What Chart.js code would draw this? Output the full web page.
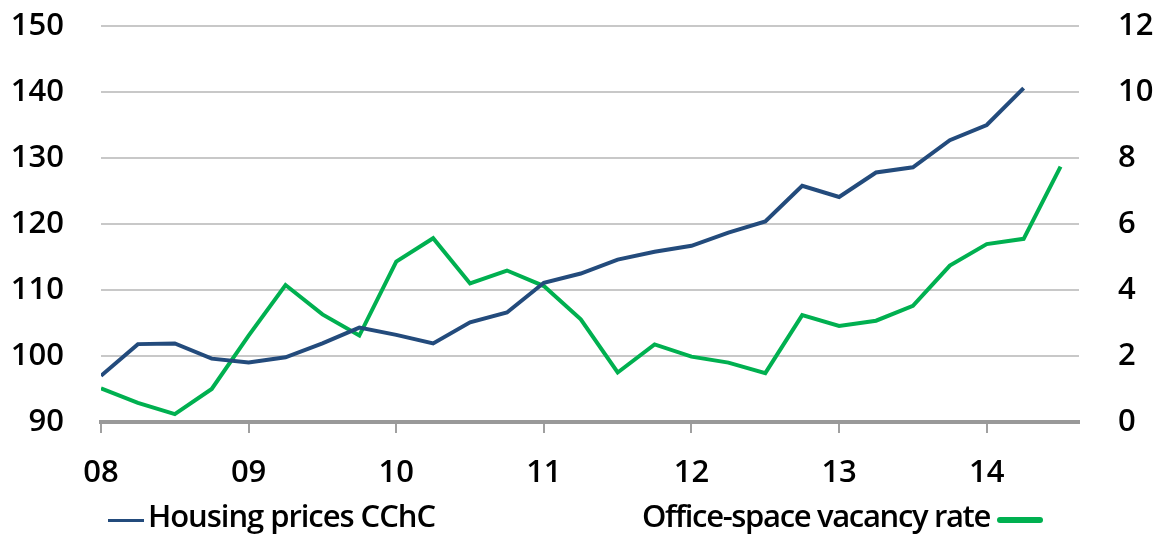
<!DOCTYPE html>
<html>
<head>
<meta charset="utf-8">
<script src="https://cdn.jsdelivr.net/npm/chart.js@4/dist/chart.umd.min.js"></script>
<style>
  html, body { margin: 0; padding: 0; background: #fff; }
  #wrap { position: relative; width: 1160px; height: 539px; overflow: hidden; }
  canvas { position: absolute; left: 0; top: 0; }
  .leg { position: absolute; font-family: "Open Sans", Lato, sans-serif; font-weight: 600; font-size: 31px; line-height: 32px; color: #000; white-space: nowrap; }
  .sw { position: absolute; }
</style>
</head>
<body>
<div id="wrap">
  <canvas id="c" width="1160" height="539"></canvas>
  <div class="sw" style="left:108px; top:519px; width:36px; height:3px; background:#234b7c;"></div>
  <div class="leg" id="leg1" style="left:148px; top:499px;">Housing prices CChC</div>
  <div class="leg" id="leg2" style="left:642px; top:499px;">Office-space vacancy rate</div>
  <div class="sw" id="sw2" style="left:997px; top:517px; width:46px; height:6px; border-radius:3px; background:#00b050;"></div>
</div>
<script>
// Quarterly categories (2008Q1 .. 2014Q3)
const quarters = ['08Q1','08Q2','08Q3','08Q4','09Q1','09Q2','09Q3','09Q4','10Q1','10Q2','10Q3','10Q4',
  '11Q1','11Q2','11Q3','11Q4','12Q1','12Q2','12Q3','12Q4','13Q1','13Q2','13Q3','13Q4','14Q1','14Q2','14Q3'];
const yearLabels = ['08','09','10','11','12','13','14'];
// Housing prices index CChC (left axis)
const housingPrices = [97.0,101.8,101.9,99.6,99.0,99.8,101.9,104.3,103.2,101.9,105.1,106.6,
  111.1,112.5,114.6,115.8,116.7,118.7,120.4,125.8,124.1,127.8,128.6,132.7,135.0,140.6,null];
// Office-space vacancy rate, % (right axis)
const vacancyRate = [1.02,0.58,0.24,1.0,2.62,4.15,3.26,2.62,4.86,5.57,4.2,4.59,
  4.12,3.11,1.5,2.35,1.98,1.8,1.48,3.24,2.91,3.07,3.52,4.74,5.39,5.55,7.74];
const leftTicks = [90,100,110,120,130,140,150];
const rightTicks = [0,2,4,6,8,10,12];

// fit legend text widths to the reference layout
function fitText(id, target) {
  const el = document.getElementById(id);
  const w = el.getBoundingClientRect().width;
  const n = el.textContent.length;
  el.style.letterSpacing = ((target - w) / n).toFixed(2) + 'px';
}
fitText('leg1', 287);
fitText('leg2', 348);

const toXY = arr => arr.map((v, i) => ({ x: i, y: v }));
const tickFont = { family: 'Open Sans', size: 31, weight: '600' };

new Chart(document.getElementById('c'), {
  type: 'line',
  data: {
    datasets: [
      { label: 'Housing prices CChC', data: toXY(housingPrices), yAxisID: 'yL',
        borderColor: '#234b7c', borderWidth: 4, pointRadius: 0, tension: 0, spanGaps: false },
      { label: 'Office-space vacancy rate', data: toXY(vacancyRate), yAxisID: 'yR',
        borderColor: '#00b050', borderWidth: 4, pointRadius: 0, tension: 0 }
    ]
  },
  options: {
    responsive: false,
    animation: false,
    events: [],
    layout: { padding: { top: 26, left: 0, right: 0, bottom: 0 } },
    plugins: { legend: { display: false }, tooltip: { enabled: false } },
    scales: {
      x: {
        type: 'linear', min: 0, max: 26.5,
        afterFit: s => { s.height = 117; },
        afterBuildTicks: s => { s.ticks = yearLabels.map((_, i) => ({ value: i * 4 })); },
        ticks: { font: tickFont, color: '#000', padding: 22, maxRotation: 0, autoSkip: false,
          callback: v => yearLabels[Math.round(v / 4)] },
        grid: { drawOnChartArea: false, drawTicks: true, tickLength: 11, color: '#a0a0a0', lineWidth: 2 },
        border: { display: true, color: '#999999', width: 4 }
      },
      yL: {
        position: 'left', min: 90, max: 150,
        afterFit: s => { s.width = 101; },
        afterBuildTicks: s => { s.ticks = leftTicks.map(v => ({ value: v })); },
        ticks: { font: tickFont, color: '#000', padding: 0 },
        grid: { drawTicks: true, tickLength: 37, tickColor: 'rgba(0,0,0,0)', color: '#c8c8c8', lineWidth: 2 },
        border: { display: false }
      },
      yR: {
        position: 'right', min: 0, max: 12,
        afterFit: s => { s.width = 81; },
        afterBuildTicks: s => { s.ticks = rightTicks.map(v => ({ value: v })); },
        ticks: { font: tickFont, color: '#000', padding: 0 },
        grid: { drawOnChartArea: false, drawTicks: true, tickLength: 39, tickColor: 'rgba(0,0,0,0)' },
        border: { display: false }
      }
    }
  }
});
</script>
</body>
</html>
